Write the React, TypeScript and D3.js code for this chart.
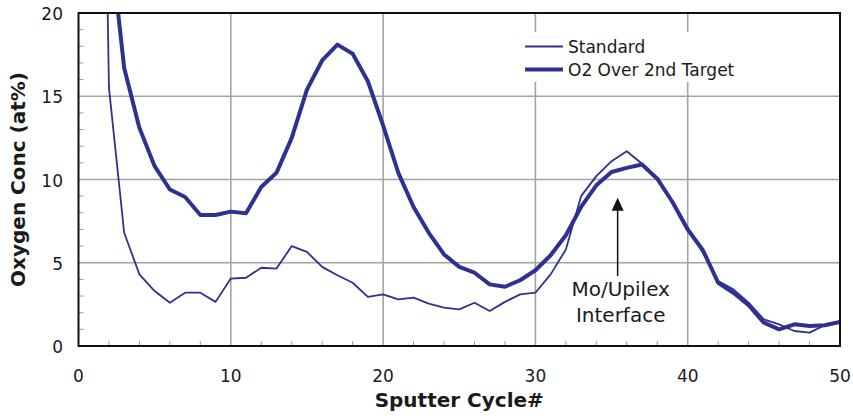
import React from "react";
import * as d3 from "d3";

const cycles = [1,2,3,4,5,6,7,8,9,10,11,12,13,14,15,16,17,18,19,20,21,22,23,24,25,26,27,28,29,30,31,32,33,34,35,36,37,38,39,40,41,42,43,44,45,46,47,48,49,50];
const standard = [70, 15.5, 6.8, 4.3, 3.3, 2.6, 3.2, 3.2, 2.65, 4.05, 4.1, 4.7, 4.65, 6.0, 5.65, 4.75, 4.25, 3.8, 2.95, 3.1, 2.8, 2.9, 2.55, 2.3, 2.2, 2.6, 2.1, 2.65, 3.1, 3.2, 4.3, 5.8, 9.0, 10.2, 11.1, 11.7, 10.95, 10.1, 8.7, 7.1, 5.6, 3.9, 3.4, 2.6, 1.6, 1.3, 0.9, 0.8, 1.25, 1.45];
const o2Target = [60, 25, 16.7, 13.1, 10.8, 9.4, 8.95, 7.87, 7.87, 8.07, 7.97, 9.55, 10.4, 12.5, 15.4, 17.15, 18.1, 17.55, 15.9, 13.25, 10.4, 8.35, 6.8, 5.5, 4.75, 4.4, 3.7, 3.56, 3.95, 4.55, 5.45, 6.65, 8.35, 9.65, 10.45, 10.7, 10.9, 10.05, 8.65, 7.0, 5.75, 3.8, 3.2, 2.45, 1.4, 1.0, 1.3, 1.2, 1.25, 1.45];
const xTicks = [0, 10, 20, 30, 40, 50];
const yTicks = [0, 5, 10, 15, 20];
const xMinor = [2,4,6,8,12,14,16,18,22,24,26,28,32,34,36,38,42,44,46,48];
const yMinor = [1,2,3,4,6,7,8,9,11,12,13,14,16,17,18,19];
const seriesNames = ["Standard", "O2 Over 2nd Target"];
const annotationLines = ["Mo/Upilex", "Interface"];

const W = 853, H = 419;
const L = 78.5, R = 840, T = 13, B = 346;
const COLOR = "#2e3190";
const FONT = "'DejaVu Sans', Verdana, sans-serif";

export default function App() {
  const x = d3.scaleLinear().domain([0, 50]).range([L, R]);
  const y = d3.scaleLinear().domain([0, 20]).range([B, T]);
  const line = d3.line<number>().x((_, i) => x(cycles[i])).y((d) => y(d));

  const arrowX = x(35.4);
  const arrowTop = y(8.9);
  const arrowBottom = y(4.2);
  const textX = x(35.6);

  return (
    <svg width={W} height={H} style={{ position: "absolute", left: 0, top: 0, background: "#fff" }}>
      <defs>
        <clipPath id="plot">
          <rect x={L} y={T} width={R - L} height={B - T} />
        </clipPath>
      </defs>
      {xTicks.slice(1, -1).map((t) => (
        <line key={"gx" + t} x1={x(t)} x2={x(t)} y1={T} y2={B} stroke="#a3a3a3" strokeWidth={1.6} />
      ))}
      {yTicks.slice(1, -1).map((t) => (
        <line key={"gy" + t} x1={L} x2={R} y1={y(t)} y2={y(t)} stroke="#a3a3a3" strokeWidth={1.6} />
      ))}
      {xMinor.map((t) => (
        <line key={"mx" + t} x1={x(t)} x2={x(t)} y1={B} y2={B - 5} stroke="#999" strokeWidth={1} />
      ))}
      {yMinor.map((t) => (
        <line key={"my" + t} x1={L} x2={L + 5} y1={y(t)} y2={y(t)} stroke="#999" strokeWidth={1} />
      ))}
      <rect x={515} y={32} width={250} height={50} fill="#fff" />
      <g clipPath="url(#plot)">
        <path d={line(standard) || ""} fill="none" stroke={COLOR} strokeWidth={1.8} strokeLinejoin="round" />
        <path d={line(o2Target) || ""} fill="none" stroke={COLOR} strokeWidth={4} strokeLinejoin="round" />
      </g>
      <rect x={L} y={T} width={R - L} height={B - T} fill="none" stroke="#111" strokeWidth={2} />
      {yTicks.map((t) => (
        <text key={"ty" + t} x={63} y={y(t) + 7} textAnchor="end" fontFamily={FONT} fontSize={17} fill="#1a1a1a">
          {t}
        </text>
      ))}
      {xTicks.map((t) => (
        <text key={"tx" + t} x={x(t)} y={382} textAnchor="middle" fontFamily={FONT} fontSize={17} fill="#1a1a1a">
          {t}
        </text>
      ))}
      <text x={(L + R) / 2} y={407} textAnchor="middle" fontFamily={FONT} fontSize={20} fontWeight="bold" fill="#1a1a1a">
        Sputter Cycle#
      </text>
      <text
        transform={`translate(25,${(T + B) / 2}) rotate(-90)`}
        textAnchor="middle"
        fontFamily={FONT}
        fontSize={20}
        fontWeight="bold"
        fill="#1a1a1a"
      >
        Oxygen Conc (at%)
      </text>
      <line x1={525} x2={563} y1={46.5} y2={46.5} stroke={COLOR} strokeWidth={1.8} />
      <text x={568} y={52.5} fontFamily={FONT} fontSize={17} fill="#1a1a1a">{seriesNames[0]}</text>
      <line x1={525} x2={563} y1={69.5} y2={69.5} stroke={COLOR} strokeWidth={4} />
      <text x={568} y={75.5} fontFamily={FONT} fontSize={17} fill="#1a1a1a">{seriesNames[1]}</text>
      <line x1={arrowX} x2={arrowX} y1={arrowBottom} y2={arrowTop + 10} stroke="#111" strokeWidth={1.5} />
      <polygon
        points={`${arrowX},${arrowTop} ${arrowX - 6},${arrowTop + 13} ${arrowX + 6},${arrowTop + 13}`}
        fill="#111"
      />
      {annotationLines.map((s, i) => (
        <text key={s} x={textX} y={296 + i * 25.5} textAnchor="middle" fontFamily={FONT} fontSize={20} fill="#1a1a1a">
          {s}
        </text>
      ))}
    </svg>
  );
}
